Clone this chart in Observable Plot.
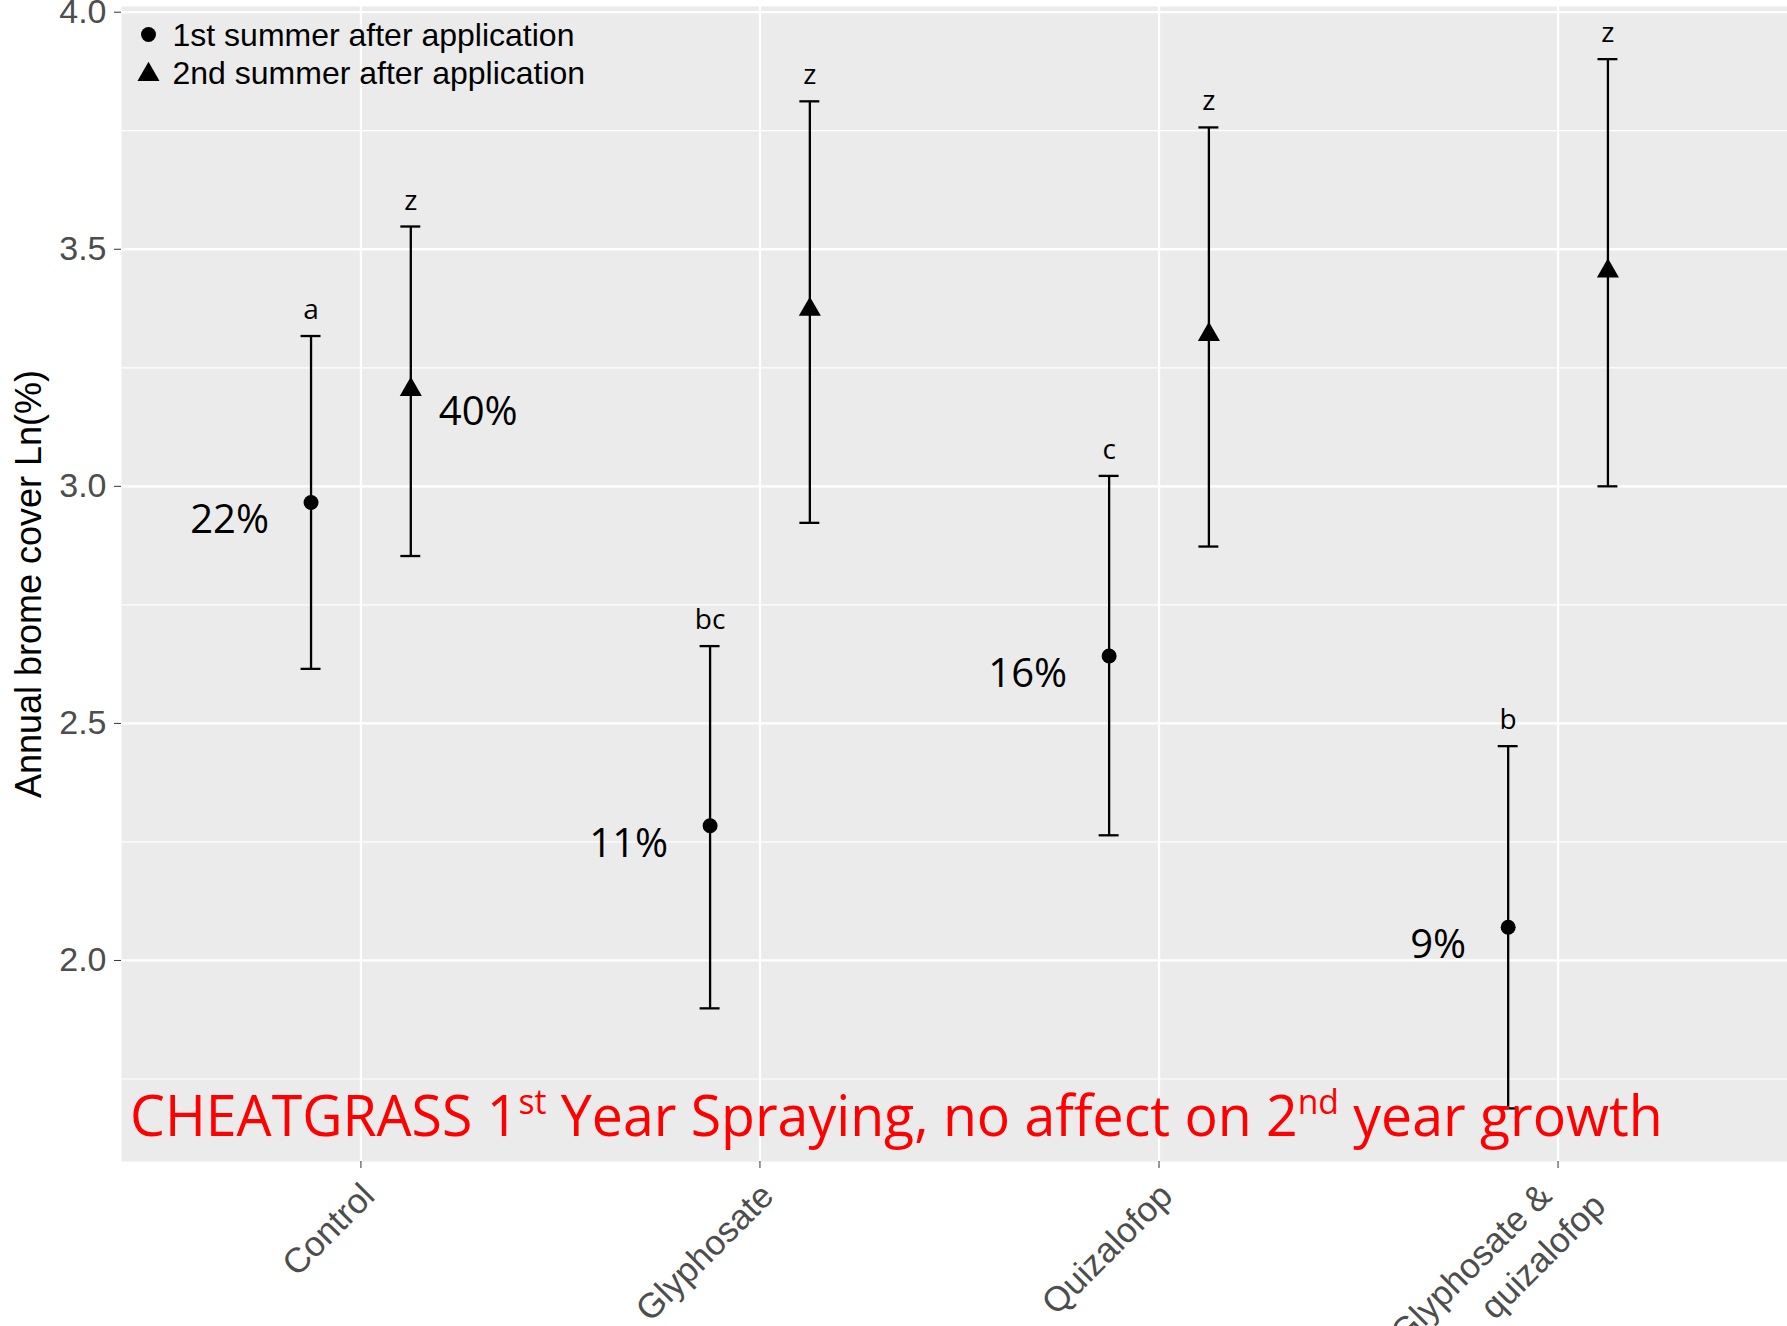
<!DOCTYPE html>
<html><head><meta charset="utf-8">
<script src="https://cdn.jsdelivr.net/npm/d3@7"></script>
<script src="https://cdn.jsdelivr.net/npm/@observablehq/plot@0.6"></script>
<style>
body{margin:0;background:#fff;}
#chart svg{display:block;}
</style>
</head><body><div id="chart"></div>
<script>
const treatments = ["Control", "Glyphosate", "Quizalofop", "Glyphosate &\nquizalofop"];
const seasons = ["1st summer after application", "2nd summer after application"];
const mean1 = [2.966, 2.284, 2.642, 2.070];
const low1  = [2.615, 1.899, 2.264, 1.688];
const high1 = [3.317, 2.663, 3.022, 2.452];
const group1 = ["a", "bc", "c", "b"];
const pct1 = ["22%", "11%", "16%", "9%"];
const mean2 = [3.204, 3.373, 3.320, 3.454];
const low2  = [2.853, 2.923, 2.873, 3.000];
const high2 = [3.548, 3.812, 3.757, 3.901];
const group2 = ["z", "z", "z", "z"];
const pct2 = ["40%", "", "", ""];
const yTicks = [2.0, 2.5, 3.0, 3.5, 4.0];
const yMinor = [1.75, 2.25, 2.75, 3.25, 3.75];
const yTitle = "Annual brome cover Ln(%)";
const noteText = ["CHEATGRASS 1", "st", " Year Spraying, no affect on 2", "nd", " year growth"];
const noteSup = [false, true, false, true, false];

const dodge = 0.125;
const rows1 = treatments.map((t, i) => ({t, x: i + 1 - dodge, mean: mean1[i], low: low1[i], high: high1[i], grp: group1[i], pct: pct1[i]}));
const rows2 = treatments.map((t, i) => ({t, x: i + 1 + dodge, mean: mean2[i], low: low2[i], high: high2[i], grp: group2[i], pct: pct2[i]}));
const rows = rows1.concat(rows2);
const labelLines = treatments.flatMap((t, i) => {
  const parts = t.split("\n");
  return parts.map((s, k) => ({x: i + 1, s, k, n: parts.length}));
});
const capHalf = 0.025;
const annFont = "'Open Sans', sans-serif";
const axisFont = "'Liberation Sans', Arial, Helvetica, sans-serif";
const xLabStyle = {text: "s", x: "x", frameAnchor: "bottom", rotate: -45, textAnchor: "end", lineAnchor: "top", fontSize: 35, fill: "#4D4D4D", fontFamily: axisFont};

const plot = Plot.plot({
  width: 1787,
  height: 1326,
  marginTop: 6,
  marginRight: 0,
  marginBottom: 165,
  marginLeft: 121,
  style: {fontFamily: axisFont, background: "#fff"},
  x: {type: "linear", domain: [0.4, 4.575], axis: null, label: null},
  y: {domain: [1.576, 4.012], axis: null, label: null},
  marks: [
    Plot.frame({fill: "#EBEBEB", stroke: null}),
    Plot.ruleY(yMinor, {stroke: "#fff", strokeWidth: 1.2}),
    Plot.ruleY(yTicks, {stroke: "#fff", strokeWidth: 2.3}),
    Plot.ruleX([1, 2, 3, 4], {stroke: "#fff", strokeWidth: 2.3}),
    Plot.axisY(yTicks, {tickSize: 7, tickPadding: 8, fontSize: 34, stroke: "#333", fill: "#4D4D4D", tickFormat: d3.format(".1f"), fontFamily: axisFont, label: null}),
    Plot.axisX([1, 2, 3, 4], {tickSize: 7, stroke: "#333", tickFormat: () => "", label: null}),
    Plot.text(labelLines.filter(d => d.n === 1), {...xLabStyle, dx: -2, dy: 19}),
    Plot.text(labelLines.filter(d => d.n === 2 && d.k === 0), {...xLabStyle, dx: -22, dy: 19}),
    Plot.text(labelLines.filter(d => d.n === 2 && d.k === 1), {...xLabStyle, dx: 32, dy: 29}),
    Plot.text([yTitle], {frameAnchor: "left", dx: -92, rotate: -90, textAnchor: "middle", lineAnchor: "middle", fontSize: 36, fill: "#000", fontFamily: axisFont}),
    // error bars
    Plot.ruleX(rows, {x: "x", y1: "low", y2: "high", stroke: "#000", strokeWidth: 2.3}),
    Plot.ruleY(rows, {y: "high", x1: d => d.x - capHalf, x2: d => d.x + capHalf, stroke: "#000", strokeWidth: 2.3}),
    Plot.ruleY(rows, {y: "low", x1: d => d.x - capHalf, x2: d => d.x + capHalf, stroke: "#000", strokeWidth: 2.3}),
    Plot.dot(rows1, {x: "x", y: "mean", r: 7.5, fill: "#000", stroke: null, symbol: "circle"}),
    Plot.dot(rows2, {x: "x", y: "mean", r: 8.2, fill: "#000", stroke: null, symbol: "triangle"}),
    // group letters
    Plot.text(rows, {x: "x", y: "high", text: "grp", dy: -17, lineAnchor: "bottom", fontSize: 28, fill: "#000", fontFamily: annFont}),
    // percent annotations
    Plot.text(rows1, {x: "x", y: "mean", text: "pct", textAnchor: "end", dx: -42, dy: 31, lineAnchor: "bottom", fontSize: 40, fill: "#000", fontFamily: annFont}),
    Plot.text(rows2, {x: "x", y: "mean", text: "pct", textAnchor: "start", dx: 28, dy: 35, lineAnchor: "bottom", fontSize: 40, fill: "#000", fontFamily: annFont}),
    // legend
    Plot.dot([seasons[0]], {frameAnchor: "top-left", dx: 27, dy: 28, r: 7.5, fill: "#000", stroke: null, symbol: "circle"}),
    Plot.dot([seasons[1]], {frameAnchor: "top-left", dx: 27, dy: 68, r: 8.2, fill: "#000", stroke: null, symbol: "triangle"}),
    Plot.text([seasons[0]], {frameAnchor: "top-left", dx: 51, dy: 29, text: d => d, textAnchor: "start", lineAnchor: "middle", fontSize: 32, fill: "#000", fontFamily: axisFont}),
    Plot.text([seasons[1]], {frameAnchor: "top-left", dx: 51, dy: 67, text: d => d, textAnchor: "start", lineAnchor: "middle", fontSize: 32, fill: "#000", fontFamily: axisFont}),
    // red note
    Plot.text([noteText.join("")], {frameAnchor: "bottom-left", dx: 9, dy: -26, text: d => d, textAnchor: "start", lineAnchor: "bottom", fontSize: 56, fill: "#FF0000", fontFamily: annFont})
  ]
});
document.getElementById("chart").appendChild(plot);

// superscripts and width fit for the note
const fullNote = noteText.join("");
const noteEl = Array.from(plot.querySelectorAll("text")).find(t => t.textContent === fullNote);
if (noteEl) {
  while (noteEl.firstChild) noteEl.removeChild(noteEl.firstChild);
  let prevSup = false;
  noteText.forEach((s, i) => {
    const ts = document.createElementNS("http://www.w3.org/2000/svg", "tspan");
    ts.textContent = s;
    if (noteSup[i]) { ts.setAttribute("font-size", 34); ts.setAttribute("dy", -22); }
    else if (prevSup) ts.setAttribute("dy", 22);
    prevSup = noteSup[i];
    noteEl.appendChild(ts);
  });
  const wrap = document.createElementNS("http://www.w3.org/2000/svg", "g");
  noteEl.parentNode.insertBefore(wrap, noteEl);
  wrap.appendChild(noteEl);
  const r = noteEl.getBoundingClientRect();
  const s = 1533 / r.width;
  wrap.setAttribute("transform", `translate(130,0) scale(${s},1) translate(${-r.left},0)`);
}
</script>
</body></html>
